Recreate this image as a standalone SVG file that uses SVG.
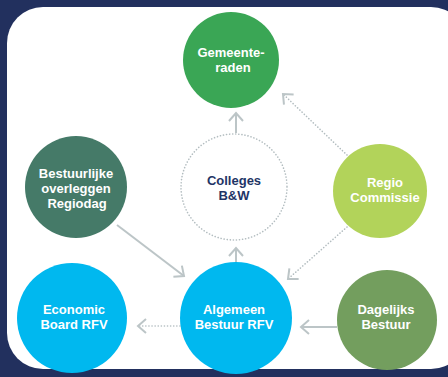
<svg xmlns="http://www.w3.org/2000/svg" width="448" height="377" viewBox="0 0 448 377">
<style>
.lbl{font-family:"Liberation Sans",Arial,sans-serif;font-weight:700;font-size:13px;fill:#ffffff;text-anchor:middle}
.dark{fill:#1f3566}
.solid{fill:none;stroke:#bcc5c7;stroke-width:2}
.dot{fill:none;stroke:#b3bdc0;stroke-width:1.6;stroke-linecap:round;stroke-dasharray:0.1 3}
</style>
<defs>
<marker id="chev" viewBox="-10 -9 12 18" refX="0" refY="0" markerWidth="12" markerHeight="18" markerUnits="userSpaceOnUse" orient="auto">
<path d="M-8,-7 L0,0 L-8,7" fill="none" stroke="#bcc5c7" stroke-width="2"/>
</marker>
</defs>
<rect width="448" height="377" fill="#22305e"/>
<rect x="7" y="7" width="460" height="362" rx="36" fill="#ffffff"/>
<g id="connectors">
<line class="solid" x1="236" y1="133" x2="236" y2="113" marker-end="url(#chev)"/>
<line class="solid" x1="236" y1="263" x2="236" y2="248" marker-end="url(#chev)"/>
<line class="dot" x1="347" y1="155" x2="283" y2="94" marker-end="url(#chev)"/>
<line class="dot" x1="347" y1="227" x2="288" y2="279" marker-end="url(#chev)"/>
<line class="solid" x1="117" y1="225" x2="184" y2="276" marker-end="url(#chev)"/>
<line class="solid" x1="337" y1="327" x2="301" y2="327" marker-end="url(#chev)"/>
<line class="dot" x1="180" y1="326" x2="138" y2="326" marker-end="url(#chev)"/>
</g>
<g id="gemeenteraden">
<circle cx="231" cy="60" r="48" fill="#3aa655"/>
<text class="lbl" x="231" y="57">Gemeente-</text>
<text class="lbl" x="233" y="72">raden</text>
</g>
<g id="colleges">
<circle class="dot" cx="234" cy="187" r="53"/>
<text class="lbl dark" x="234" y="185">Colleges</text>
<text class="lbl dark" x="234" y="200">B&amp;W</text>
</g>
<g id="bestuurlijke">
<circle cx="76" cy="187" r="51" fill="#457a68"/>
<text class="lbl" x="76" y="178">Bestuurlijke</text>
<text class="lbl" x="76" y="193">overleggen</text>
<text class="lbl" x="77" y="208">Regiodag</text>
</g>
<g id="regio">
<circle cx="380" cy="191" r="47" fill="#b2d35a"/>
<text class="lbl" x="385" y="187">Regio</text>
<text class="lbl" x="385" y="202">Commissie</text>
</g>
<g id="economic">
<circle cx="72" cy="318" r="55" fill="#00b8ef"/>
<text class="lbl" x="74" y="314">Economic</text>
<text class="lbl" x="74" y="329">Board RFV</text>
</g>
<g id="algemeen">
<circle cx="236" cy="318" r="56" fill="#00b8ef"/>
<text class="lbl" x="234" y="314">Algemeen</text>
<text class="lbl" x="234" y="329">Bestuur RFV</text>
</g>
<g id="dagelijks">
<circle cx="387" cy="320" r="50" fill="#739e5e"/>
<text class="lbl" x="386" y="314">Dagelijks</text>
<text class="lbl" x="386" y="329">Bestuur</text>
</g>
</svg>
